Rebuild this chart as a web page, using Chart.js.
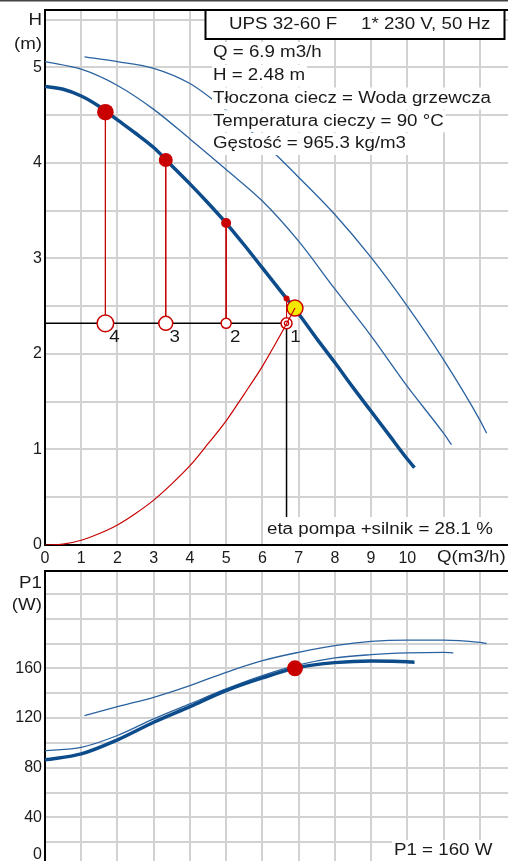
<!DOCTYPE html>
<html><head><meta charset="utf-8">
<script src="https://cdn.jsdelivr.net/npm/chart.js@4.4.1/dist/chart.umd.min.js"></script>
<style>
html,body{margin:0;padding:0;width:508px;height:861px;overflow:hidden;background:#fff}
#wrap{position:relative;width:508px;height:861px;overflow:hidden;background:#fff}
#c1{position:absolute;left:0;top:0}
#c2{position:absolute;left:0;top:561px}
</style></head>
<body><div id="wrap"><canvas id="c1" width="508" height="570"></canvas><canvas id="c2" width="508" height="306"></canvas></div>
<script>
// ---------- data ----------
const qTicks = [0,1,2,3,4,5,6,7,8,9,10,11,12];
const qTickLabels = ['0','1','2','3','4','5','6','7','8','9','10','',''];
const hTicks = [0,0.5,1,1.5,2,2.5,3,3.5,4,4.5,5,5.5];
const hTickLabels = ['0','','1','','2','','3','','4','','5',''];
const pTicks = [0,20,40,60,80,100,120,140,160,180,200,220];
const pTickLabels = [['0',''],'','40','','80','','120','','160','','',''];

// pump curves H(Q) - thick (current setting) and two thin (other speeds)
const qH1 = [0,0.5,1,1.5,2,2.5,3,3.5,4,4.5,5,5.5,6,6.5,7,7.5,8,8.5,9,9.5,10,10.2];
const hH1 = [4.80,4.77,4.70,4.59,4.45,4.31,4.16,3.97,3.78,3.58,3.37,3.14,2.90,2.66,2.42,2.16,1.91,1.65,1.40,1.15,0.90,0.81];
const qH2 = [0,1,2,3,4,5,6,7,8,9,10,11,11.22];
const hH2 = [5.06,4.98,4.81,4.56,4.25,3.93,3.60,3.18,2.68,2.19,1.66,1.17,1.05];
const qH3 = [1.09,2,3,4,5,6,7,8,9,10,11,12,12.19];
const hH3 = [5.11,5.06,4.99,4.83,4.55,4.22,3.85,3.46,3.01,2.50,1.94,1.31,1.17];
// system curve
const qSys = [0,0.5,1,1.5,2,2.5,3,3.5,4,4.5,5,5.5,6,6.5,6.9];
const hSys = [0,0.01,0.05,0.12,0.21,0.33,0.47,0.64,0.83,1.06,1.30,1.58,1.87,2.20,2.48];
// duty point
const dutyQ = 6.9, dutyH = 2.48, dutyP = 160;
// marked points 1..4 on the curve and reference head
const ptLabels = ['1','2','3','4'];
const ptQ = [6.667,5.0,3.333,1.667];
const ptH = [2.58,3.37,4.03,4.53];
const refH = 2.32;
// power curves P1(Q)
const qP1 = [0,1,2,3,4,5,6,7,8,9,10,10.2];
const pP1 = [86.3,91.1,102.4,116.6,129.2,142.1,152.3,160.8,164.6,165.9,165.4,164.8];
const qP2 = [0,1,2,3,4,5,6,7,8,9,10,11,11.27];
const pP2 = [93.8,96.4,105.9,119.3,131.4,143.4,154.1,162.7,168.4,171.0,172.4,172.9,172.4];
const qP3 = [1.09,2,3,4,5,6,7,8,9,10,11,12,12.19];
const pP3 = [121.9,129.2,136.7,146.1,156.8,166.2,172.9,178.3,181.7,182.8,182.8,180.9,180.1];

const titleLeft = 'UPS 32-60 F';
const titleRight = '1* 230 V, 50 Hz';
const infoLines = ['Q = 6.9 m3/h','H = 2.48 m','Tłoczona ciecz = Woda grzewcza','Temperatura cieczy = 90 °C','Gęstość = 965.3 kg/m3'];
const etaText = 'eta pompa +silnik = 28.1 %';
const p1Text = 'P1 = 160 W';

// ---------- styles ----------
const FONT = "'Liberation Sans', Arial, sans-serif";
Chart.defaults.font.family = FONT;
Chart.defaults.font.size = 16;
Chart.defaults.color = '#1a1a1a';
const RED = '#c80000', THICK = '#0d4c8b', THIN = '#2a62a0', GRID = '#d2d2d2', TXT = '#1a1a1a';
const SX = 1.17;

const mk = (qs, vs) => qs.map((q, i) => ({x: q, y: vs[i]}));

function txt(ctx, s, x, y, align, bg) {
  ctx.save();
  ctx.font = '16px ' + FONT;
  const w = ctx.measureText(s).width * SX;
  const x0 = align === 'right' ? x - w : (align === 'center' ? x - w / 2 : x);
  if (bg) { ctx.fillStyle = '#fff'; ctx.fillRect(x0 - 1, y - 11, w + 3, 22); }
  ctx.translate(x0, y); ctx.scale(SX, 1);
  ctx.fillStyle = TXT; ctx.textBaseline = 'middle'; ctx.textAlign = 'left';
  ctx.fillText(s, 0, 0);
  ctx.restore();
}

function line(q, h, color, width, order) {
  return {data: mk(q, h), showLine: true, borderColor: color, borderWidth: width, pointRadius: 0,
          cubicInterpolationMode: 'monotone', order: order};
}

const topDeco = {
  id: 'topDeco',
  afterDraw(chart) {
    const ctx = chart.ctx, a = chart.chartArea, xs = chart.scales.x, ys = chart.scales.y;
    ctx.save();
    ctx.fillStyle = '#444'; ctx.fillRect(0, 0, 508, 1.5);
    ctx.strokeStyle = '#000'; ctx.lineWidth = 2;
    ctx.beginPath(); ctx.moveTo(a.left - 1, a.top); ctx.lineTo(508, a.top); ctx.stroke();
    // title box
    ctx.fillStyle = '#fff'; ctx.fillRect(205, 10, 300, 29);
    ctx.strokeRect(205.5, 10, 299, 29);
    ctx.restore();
    txt(ctx, titleLeft, 229, 24.5, 'left', false);
    txt(ctx, titleRight, 361, 24.5, 'left', false);
    infoLines.forEach((s, i) => txt(ctx, s, 213, 53 + i * 22.75, 'left', true));
    // eta label
    ctx.save(); ctx.fillStyle = '#fff'; ctx.fillRect(264, 517, 236, 27); ctx.restore();
    txt(ctx, etaText, 267, 530, 'left', false);
    // point numbers
    ptQ.forEach((q, i) => txt(ctx, ptLabels[i], xs.getPixelForValue(q) + 9, ys.getPixelForValue(refH) + 14, 'center', false));
    // axis titles
    txt(ctx, 'H', 42, 21, 'right', false);
    txt(ctx, '(m)', 42, 45, 'right', false);
    txt(ctx, 'Q(m3/h)', 437, 558, 'left', false);
  }
};

const botDeco = {
  id: 'botDeco',
  afterDraw(chart) {
    const ctx = chart.ctx, a = chart.chartArea;
    ctx.save();
    ctx.strokeStyle = '#000'; ctx.lineWidth = 2;
    ctx.beginPath(); ctx.moveTo(a.left - 1, a.top); ctx.lineTo(508, a.top); ctx.stroke();
    ctx.fillStyle = '#fff'; ctx.fillRect(392, 279, 116, 27);
    ctx.restore();
    txt(ctx, 'P1', 42, 22.5, 'right', false);
    txt(ctx, '(W)', 42, 45, 'right', false);
    txt(ctx, p1Text, 394, 290, 'left', false);
  }
};

function fitY(w) { return s => { s.width = w; s.paddingTop = 0; s.paddingBottom = 0; s.paddingLeft = 0; s.paddingRight = 0; }; }
function fitX(h) { return s => { s.height = h; s.paddingTop = 0; s.paddingBottom = 0; s.paddingLeft = 0; s.paddingRight = 0; }; }

// ---------- top chart: H(Q) ----------
const topSets = [
  line(qSys, hSys, RED, 1.2, 0),
  {data: [{x: dutyQ, y: dutyH}], pointRadius: 8, pointBackgroundColor: '#f5e900', pointBorderColor: RED, pointBorderWidth: 1.5, order: 1},
  {data: mk(ptQ, ptH), pointRadius: [3, 5, 7, 8.3], pointBackgroundColor: RED, pointBorderWidth: 0, order: 2},
  {data: [{x: ptQ[0], y: refH}], pointRadius: 2.2, pointBackgroundColor: '#fff', pointBorderColor: RED, pointBorderWidth: 1.2, order: 3},
  {data: ptQ.map(q => ({x: q, y: refH})), pointRadius: [5.5, 5, 7, 8.3], pointBackgroundColor: '#fff', pointBorderColor: RED, pointBorderWidth: 1.5, order: 4},
];
ptQ.forEach((q, i) => topSets.push({data: [{x: q, y: ptH[i]}, {x: q, y: refH}], showLine: true, borderColor: RED, borderWidth: 1, pointRadius: 0, order: 5}));
topSets.push({data: [{x: 0, y: refH}, {x: ptQ[0], y: refH}, {x: ptQ[0], y: 0}], showLine: true, borderColor: '#000', borderWidth: 1.5, pointRadius: 0, order: 6});
topSets.push(line(qH1, hH1, THICK, 3.5, 7));
topSets.push(line(qH2, hH2, THIN, 1.3, 8));
topSets.push(line(qH3, hH3, THIN, 1.3, 9));

new Chart(document.getElementById('c1'), {
  type: 'scatter',
  data: {datasets: topSets},
  options: {
    responsive: false, animation: false, events: [],
    layout: {autoPadding: false, padding: {top: 10, left: 0, right: 0, bottom: 0}},
    plugins: {legend: {display: false}, tooltip: {enabled: false}},
    scales: {
      x: {type: 'linear', min: 0, max: 12.78,
          afterBuildTicks: s => { s.ticks = qTicks.map(v => ({value: v})); },
          ticks: {callback: (v, i) => qTickLabels[i], padding: 4, maxRotation: 0, autoSkip: false, color: TXT},
          grid: {color: GRID, lineWidth: 2, drawTicks: false},
          border: {color: '#000', width: 2},
          afterFit: fitX(25)},
      y: {type: 'linear', min: 0, max: 5.6,
          afterBuildTicks: s => { s.ticks = hTicks.map(v => ({value: v})); },
          ticks: {callback: (v, i) => hTickLabels[i], padding: 3, autoSkip: false, color: TXT},
          grid: {color: GRID, lineWidth: 2, drawTicks: false},
          border: {color: '#000', width: 2},
          afterFit: fitY(45)}
    }
  },
  plugins: [topDeco]
});

// ---------- bottom chart: P1(Q) ----------
new Chart(document.getElementById('c2'), {
  type: 'scatter',
  data: {datasets: [
    {data: [{x: dutyQ, y: dutyP}], pointRadius: 8, pointBackgroundColor: RED, pointBorderWidth: 0, order: 0},
    line(qP1, pP1, THICK, 3.5, 1),
    line(qP2, pP2, THIN, 1.3, 2),
    line(qP3, pP3, THIN, 1.3, 3)
  ]},
  options: {
    responsive: false, animation: false, events: [],
    layout: {autoPadding: false, padding: {top: 10, left: 0, right: 0, bottom: 0}},
    plugins: {legend: {display: false}, tooltip: {enabled: false}},
    scales: {
      x: {type: 'linear', min: 0, max: 12.78,
          afterBuildTicks: s => { s.ticks = qTicks.map(v => ({value: v})); },
          ticks: {display: false},
          grid: {color: GRID, lineWidth: 2, drawTicks: false},
          border: {display: false},
          afterFit: fitX(0)},
      y: {type: 'linear', min: 0, max: 238.4,
          afterBuildTicks: s => { s.ticks = pTicks.map(v => ({value: v})); },
          ticks: {callback: (v, i) => pTickLabels[i], padding: 3, autoSkip: false, color: TXT, font: {size: 16, lineHeight: 1.5}},
          grid: {color: GRID, lineWidth: 2, drawTicks: false},
          border: {color: '#000', width: 2},
          afterFit: fitY(45)}
    }
  },
  plugins: [botDeco]
});
</script>
</body></html>
